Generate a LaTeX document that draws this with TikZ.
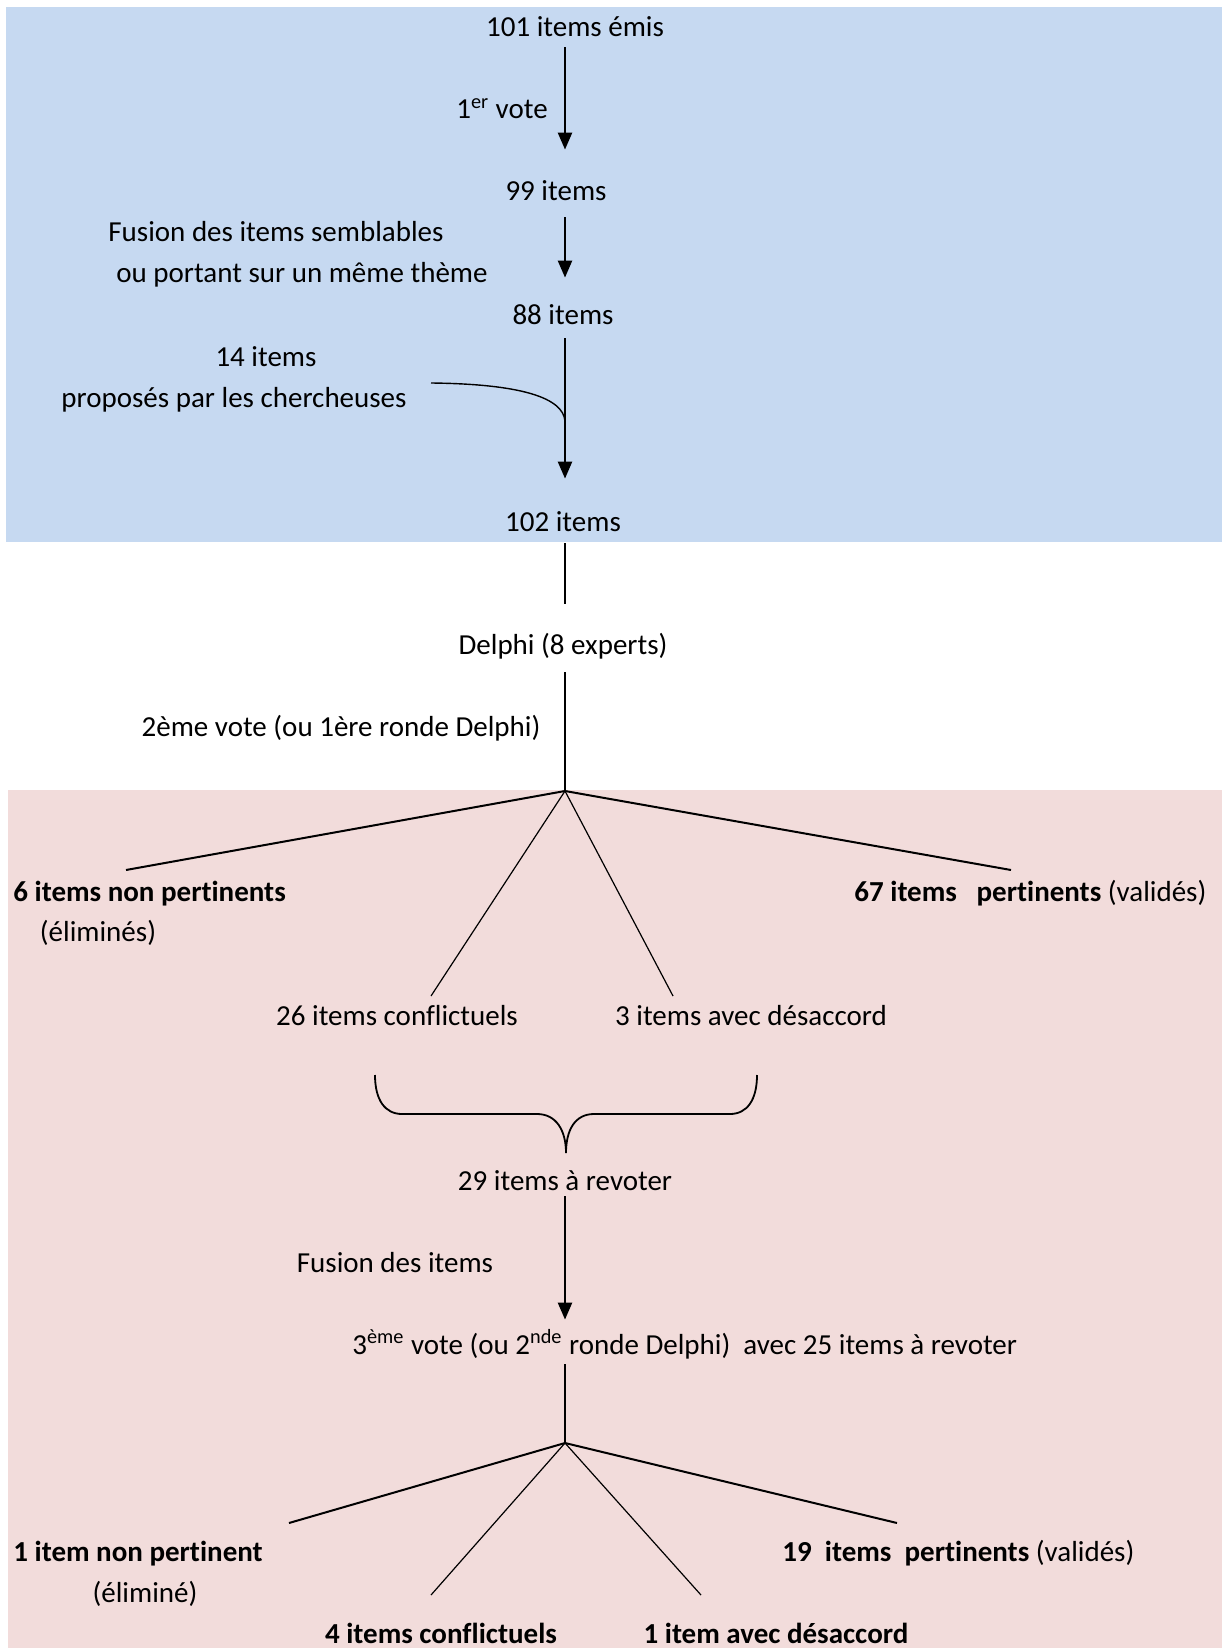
\documentclass[tikz,border=0pt]{standalone}
\usepackage{fontspec}
\setmainfont{Carlito}[RawFeature={-liga;-clig;-calt;-dlig}]
\usetikzlibrary{arrows.meta}
\definecolor{bgblue}{HTML}{C6D9F1}
\definecolor{bgpink}{HTML}{F2DCDB}
\begin{document}
\begin{tikzpicture}[x=0.5pt,y=-0.5pt,
  lbl/.style={inner sep=0pt, text height=10.5pt, text depth=3pt, font=\fontsize{14.5}{17}\selectfont, anchor=base, yshift=-1pt},
  arr/.style={line width=1.2pt, -{Triangle[length=8.5pt,width=7pt]}},
  thinline/.style={line width=0.6pt},
  boldline/.style={line width=1pt}]
\useasboundingbox (0,0) rectangle (1222,1648);
\fill[bgblue] (6,7) rectangle (1222,542);
\fill[bgpink] (8,790) rectangle (1222,1648);
\coordinate (axis) at (565,0);

% nodes
\node[lbl] (n101) at (575,35) {101 items émis};
\node[lbl] (vote1) at (502,117) {1\textsuperscript{er} vote};
\node[lbl] (n99) at (556,199) {99 items};
\node[lbl] (fus1) at (276,240) {Fusion des items semblables};
\node[lbl] (fus2) at (302,281) {ou portant sur un même thème};
\node[lbl] (n88) at (563,322) {88 items};
\node[lbl] (n14) at (266,364) {14 items};
\node[lbl] (prop) at (234,405) {proposés par les chercheuses};
\node[lbl] (n102) at (563,529) {102 items};
\node[lbl] (delphi) at (563,652) {Delphi (8 experts)};
\node[lbl] (vote2) at (341,734) {2ème vote (ou 1ère ronde Delphi)};
\node[lbl,anchor=base west] (np6) at (13,899) {\textbf{6 items non pertinents}};
\node[lbl] (elim6) at (98,939) {(éliminés)};
\node[lbl,anchor=base west] (p67) at (854,899) {\textbf{67 items\ \ \ pertinents} (validés)};
\node[lbl] (c26) at (397,1023) {26 items conflictuels};
\node[lbl] (d3) at (751,1023) {3 items avec désaccord};
\node[lbl] (n29) at (565,1188) {29 items à revoter};
\node[lbl] (fus3) at (395,1270) {Fusion des items};
\node[lbl,anchor=base west] (vote3) at (352,1352) {3\textsuperscript{ème} vote (ou 2\textsuperscript{nde} ronde Delphi)\ \ avec 25 items à revoter};
\node[lbl,anchor=base west] (np1) at (13,1559) {\textbf{1 item non pertinent}};
\node[lbl] (elim1) at (145,1600) {(éliminé)};
\node[lbl,anchor=base west] (p19) at (782,1559) {\textbf{19\ \ items\ \ pertinents} (validés)};
\node[lbl] (c4) at (441,1641) {\textbf{4 items conflictuels}};
\node[lbl] (d1) at (776,1641) {\textbf{1 item avec désaccord}};

% coordinates
\coordinate (b1) at (565,791);
\coordinate (b2) at (565,1443);
\coordinate (cs) at (431,383);
\coordinate (cj) at (565,421);
\coordinate (l1) at (126,870);
\coordinate (l2) at (431,996);
\coordinate (l3) at (673,996);
\coordinate (l4) at (1011,870);
\coordinate (m1) at (289,1523);
\coordinate (m2) at (431,1595);
\coordinate (m3) at (701,1595);
\coordinate (m4) at (897,1523);
\coordinate (btip) at (566,1153);

% vertical connectors
\draw[arr, shorten <=2pt, shorten >=15pt] (n101.south -| axis) -- (n99.north -| axis);
\draw[arr, shorten <=5pt, shorten >=12.5pt] (n99.south -| axis) -- (n88.north -| axis);
\draw[arr, shorten <=4pt, shorten >=15.5pt] (n88.south -| axis) -- (n102.north -| axis);
\draw[line width=0.7pt] (cs) .. controls (522,384) and (563,398) .. (cj);
\draw[thinline, shorten <=3pt, shorten >=14.5pt] (n102.south -| axis) -- (delphi.north -| axis);
\draw[thinline, shorten <=6pt] (delphi.south -| axis) -- (b1);

% first tree
\draw[boldline] (b1) -- (l1);
\draw[thinline] (b1) -- (l2);
\draw[thinline] (b1) -- (l3);
\draw[boldline] (b1) -- (l4);

% brace
\draw[line width=0.9pt] (375,1075) .. controls (375,1100) and (385,1114) .. (402,1114)
  -- (537,1114) .. controls (556,1114) and (566,1130) .. (btip)
  .. controls (566,1130) and (575,1114) .. (594,1114)
  -- (730,1114) .. controls (747,1114) and (757,1100) .. (757,1075);

\draw[arr, shorten <=0pt, shorten >=6.5pt] (n29.south -| axis) -- (vote3.north -| axis);
\draw[thinline, shorten <=2pt] (vote3.south -| axis) -- (b2);

% second tree
\draw[boldline] (b2) -- (m1);
\draw[thinline] (b2) -- (m2);
\draw[thinline] (b2) -- (m3);
\draw[boldline] (b2) -- (m4);
\end{tikzpicture}
\end{document}
